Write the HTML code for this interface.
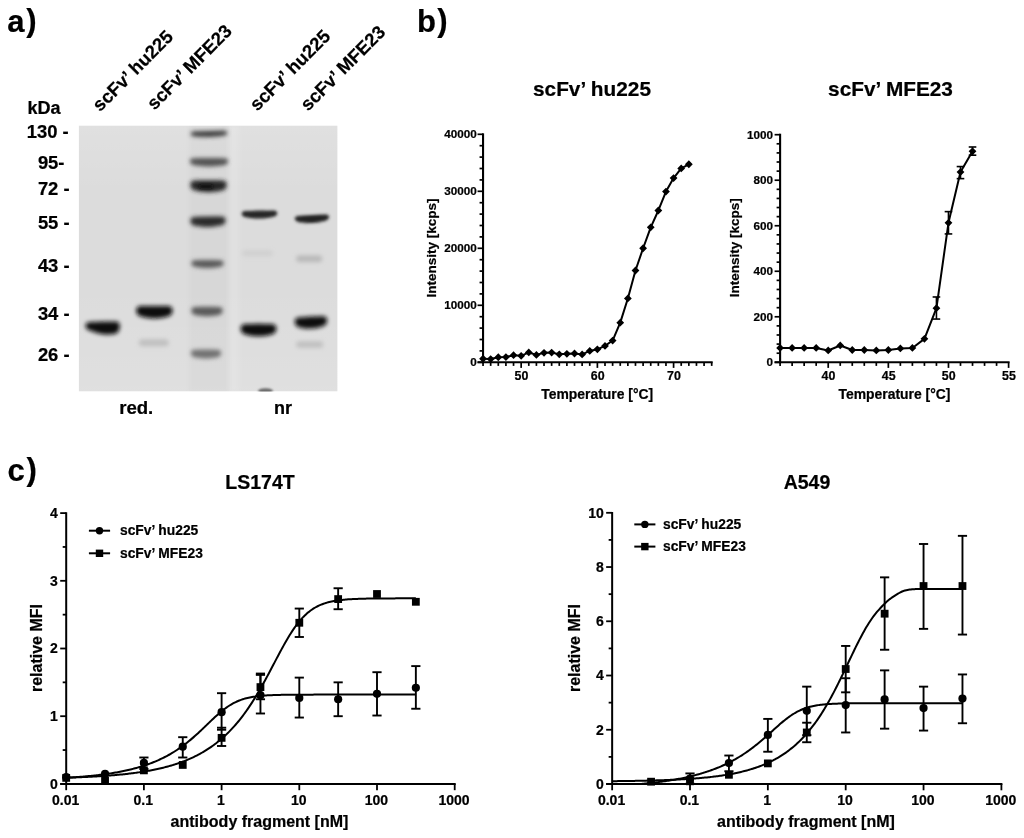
<!DOCTYPE html>
<html><head><meta charset="utf-8"><style>html,body{margin:0;padding:0;background:#fff;width:1024px;height:838px;overflow:hidden}svg{display:block;filter:blur(0.6px)}</style></head>
<body><svg width="1024" height="838" viewBox="0 0 1024 838" font-family="'Liberation Sans', sans-serif" font-weight="bold">
<defs>
<clipPath id="gelclip"><rect x="78.7" y="125.5" width="258.9" height="266"/></clipPath>
<linearGradient id="gelgrad" x1="0" y1="0" x2="0" y2="1"><stop offset="0" stop-color="#fff" stop-opacity="0.14"/><stop offset="0.25" stop-color="#fff" stop-opacity="0.03"/><stop offset="0.6" stop-color="#fff" stop-opacity="0.03"/><stop offset="1" stop-color="#fff" stop-opacity="0.13"/></linearGradient>
<filter id="b1.0" x="-30%" y="-100%" width="160%" height="300%"><feGaussianBlur stdDeviation="1.0"/></filter><filter id="b1.6" x="-30%" y="-100%" width="160%" height="300%"><feGaussianBlur stdDeviation="1.6"/></filter><filter id="b1.8" x="-30%" y="-100%" width="160%" height="300%"><feGaussianBlur stdDeviation="1.8"/></filter><filter id="b2.0" x="-30%" y="-100%" width="160%" height="300%"><feGaussianBlur stdDeviation="2.0"/></filter><filter id="b2.2" x="-30%" y="-100%" width="160%" height="300%"><feGaussianBlur stdDeviation="2.2"/></filter></defs>
<rect width="1024" height="838" fill="#fff"/>
<g clip-path="url(#gelclip)"><rect x="78.7" y="125.5" width="258.90000000000003" height="266.0" fill="#dbdbdb"/><rect x="78.7" y="125.5" width="258.90000000000003" height="266.0" fill="url(#gelgrad)"/><rect x="189" y="125" width="40" height="267" fill="#000" fill-opacity="0.025" filter="url(#b2.0)"/><rect x="229" y="125" width="10" height="267" fill="#fff" fill-opacity="0.12" filter="url(#b2.0)"/><path d="M85.00,326.89L86.46,324.07L87.92,323.20L89.38,323.00L90.83,322.81L92.29,322.63L93.75,322.46L95.21,322.29L96.67,322.13L98.12,321.97L99.58,321.82L101.04,321.68L102.50,321.55L103.96,321.42L105.42,321.30L106.88,321.19L108.33,321.08L109.79,320.99L111.25,320.89L112.71,320.81L114.17,320.73L115.62,320.66L117.08,320.60L118.54,321.60L120.00,325.96L120.00,325.46L118.54,330.55L117.08,332.21L115.62,332.72L114.17,333.15L112.71,333.50L111.25,333.78L109.79,333.98L108.33,334.12L106.88,334.19L105.42,334.20L103.96,334.15L102.50,334.05L101.04,333.89L99.58,333.69L98.12,333.44L96.67,333.15L95.21,332.82L93.75,332.45L92.29,332.05L90.83,331.62L89.38,331.16L87.92,330.69L86.46,329.52L85.00,326.39Z" fill="#0e0e0e" filter="url(#b2.0)" transform="rotate(4 102.5 327.8)"/><path d="M135.90,310.62L137.44,307.07L138.98,306.16L140.53,306.12L142.07,306.08L143.61,306.05L145.15,306.02L146.69,306.00L148.23,305.98L149.78,305.97L151.32,305.96L152.86,305.95L154.40,305.95L155.94,305.95L157.48,305.96L159.03,305.97L160.57,305.98L162.11,306.00L163.65,306.02L165.19,306.05L166.73,306.08L168.28,306.12L169.82,306.16L171.36,307.07L172.90,310.62L172.90,310.32L171.36,314.43L169.82,315.85L168.28,316.34L166.73,316.78L165.19,317.17L163.65,317.51L162.11,317.80L160.57,318.03L159.03,318.22L157.48,318.35L155.94,318.42L154.40,318.45L152.86,318.42L151.32,318.35L149.78,318.22L148.23,318.03L146.69,317.80L145.15,317.51L143.61,317.17L142.07,316.78L140.53,316.34L138.98,315.85L137.44,314.43L135.90,310.32Z" fill="#101010" filter="url(#b2.0)" transform="rotate(0 154.4 312.2)"/><rect x="138.80" y="339.30" width="30" height="7" rx="3.50" ry="3.50" fill="#c0c0c0" filter="url(#b2.0)" transform="rotate(0 153.8 342.8)"/><path d="M190.70,132.50L192.22,131.47L193.75,131.18L195.28,131.12L196.80,131.08L198.32,131.04L199.85,131.00L201.38,130.97L202.90,130.94L204.43,130.93L205.95,130.91L207.47,130.90L209.00,130.90L210.53,130.90L212.05,130.91L213.57,130.93L215.10,130.94L216.62,130.97L218.15,131.00L219.68,131.04L221.20,131.08L222.72,131.12L224.25,131.18L225.78,131.47L227.30,132.50L227.30,134.20L225.78,135.40L224.25,135.86L222.72,136.06L221.20,136.23L219.68,136.39L218.15,136.53L216.62,136.64L215.10,136.73L213.57,136.81L212.05,136.86L210.53,136.89L209.00,136.90L207.47,136.89L205.95,136.86L204.43,136.81L202.90,136.73L201.38,136.64L199.85,136.53L198.32,136.39L196.80,136.23L195.28,136.06L193.75,135.86L192.22,135.40L190.70,134.20Z" fill="#3a3a3a" filter="url(#b2.0)" transform="rotate(-1.5 209 133.9)"/><path d="M190.00,160.05L191.58,158.62L193.17,158.23L194.75,158.17L196.33,158.13L197.92,158.09L199.50,158.05L201.08,158.02L202.67,157.99L204.25,157.97L205.83,157.96L207.42,157.95L209.00,157.95L210.58,157.95L212.17,157.96L213.75,157.97L215.33,157.99L216.92,158.02L218.50,158.05L220.08,158.09L221.67,158.13L223.25,158.17L224.83,158.23L226.42,158.62L228.00,160.05L228.00,162.62L226.42,164.33L224.83,164.97L223.25,165.25L221.67,165.51L220.08,165.73L218.50,165.92L216.92,166.08L215.33,166.21L213.75,166.32L212.17,166.39L210.58,166.44L209.00,166.45L207.42,166.44L205.83,166.39L204.25,166.32L202.67,166.21L201.08,166.08L199.50,165.92L197.92,165.73L196.33,165.51L194.75,165.25L193.17,164.97L191.58,164.33L190.00,162.62Z" fill="#525252" filter="url(#b2.0)" transform="rotate(0 209 162.2)"/><path d="M190.50,183.00L192.00,181.01L193.50,180.48L195.00,180.42L196.50,180.38L198.00,180.34L199.50,180.30L201.00,180.27L202.50,180.24L204.00,180.22L205.50,180.21L207.00,180.20L208.50,180.20L210.00,180.20L211.50,180.21L213.00,180.22L214.50,180.24L216.00,180.27L217.50,180.30L219.00,180.34L220.50,180.38L222.00,180.42L223.50,180.48L225.00,181.01L226.50,183.00L226.50,186.80L225.00,189.21L223.50,190.12L222.00,190.51L220.50,190.87L219.00,191.18L217.50,191.45L216.00,191.68L214.50,191.87L213.00,192.01L211.50,192.12L210.00,192.18L208.50,192.20L207.00,192.18L205.50,192.12L204.00,192.01L202.50,191.87L201.00,191.68L199.50,191.45L198.00,191.18L196.50,190.87L195.00,190.51L193.50,190.12L192.00,189.21L190.50,186.80Z" fill="#262626" filter="url(#b2.0)" transform="rotate(0 208.5 186.2)"/><path d="M190.50,218.95L191.96,217.20L193.42,216.73L194.88,216.67L196.33,216.63L197.79,216.59L199.25,216.55L200.71,216.52L202.17,216.49L203.62,216.47L205.08,216.46L206.54,216.45L208.00,216.45L209.46,216.45L210.92,216.46L212.38,216.47L213.83,216.49L215.29,216.52L216.75,216.55L218.21,216.59L219.67,216.63L221.12,216.67L222.58,216.73L224.04,217.20L225.50,218.95L225.50,222.22L224.04,224.33L222.58,225.13L221.12,225.47L219.67,225.78L218.21,226.06L216.75,226.29L215.29,226.49L213.83,226.66L212.38,226.79L210.92,226.88L209.46,226.93L208.00,226.95L206.54,226.93L205.08,226.88L203.62,226.79L202.17,226.66L200.71,226.49L199.25,226.29L197.79,226.06L196.33,225.78L194.88,225.47L193.42,225.13L191.96,224.33L190.50,222.22Z" fill="#2c2c2c" filter="url(#b2.0)" transform="rotate(-1 208 221.7)"/><path d="M191.50,262.00L192.83,260.65L194.17,260.28L195.50,260.23L196.83,260.18L198.17,260.14L199.50,260.10L200.83,260.07L202.17,260.04L203.50,260.02L204.83,260.01L206.17,260.00L207.50,260.00L208.83,260.00L210.17,260.01L211.50,260.02L212.83,260.04L214.17,260.07L215.50,260.10L216.83,260.14L218.17,260.18L219.50,260.23L220.83,260.28L222.17,260.65L223.50,262.00L223.50,264.40L222.17,266.00L220.83,266.61L219.50,266.88L218.17,267.11L216.83,267.32L215.50,267.50L214.17,267.65L212.83,267.78L211.50,267.88L210.17,267.94L208.83,267.99L207.50,268.00L206.17,267.99L204.83,267.94L203.50,267.88L202.17,267.78L200.83,267.65L199.50,267.50L198.17,267.32L196.83,267.11L195.50,266.88L194.17,266.61L192.83,266.00L191.50,264.40Z" fill="#5a5a5a" filter="url(#b2.0)" transform="rotate(0 207.5 264)"/><path d="M191.50,309.05L192.79,307.46L194.08,307.03L195.38,306.98L196.67,306.93L197.96,306.89L199.25,306.85L200.54,306.82L201.83,306.79L203.12,306.77L204.42,306.76L205.71,306.75L207.00,306.75L208.29,306.75L209.58,306.76L210.88,306.77L212.17,306.79L213.46,306.82L214.75,306.85L216.04,306.89L217.33,306.93L218.62,306.98L219.92,307.03L221.21,307.46L222.50,309.05L222.50,311.98L221.21,313.88L219.92,314.60L218.62,314.91L217.33,315.19L216.04,315.44L214.75,315.66L213.46,315.84L212.17,315.99L210.88,316.10L209.58,316.18L208.29,316.23L207.00,316.25L205.71,316.23L204.42,316.18L203.12,316.10L201.83,315.99L200.54,315.84L199.25,315.66L197.96,315.44L196.67,315.19L195.38,314.91L194.08,314.60L192.79,313.88L191.50,311.98Z" fill="#5a5a5a" filter="url(#b2.0)" transform="rotate(0 207 311.5)"/><path d="M191.00,351.70L192.25,350.19L193.50,349.78L194.75,349.73L196.00,349.68L197.25,349.64L198.50,349.60L199.75,349.57L201.00,349.54L202.25,349.52L203.50,349.51L204.75,349.50L206.00,349.50L207.25,349.50L208.50,349.51L209.75,349.52L211.00,349.54L212.25,349.57L213.50,349.60L214.75,349.64L216.00,349.68L217.25,349.73L218.50,349.78L219.75,350.19L221.00,351.70L221.00,354.45L219.75,356.25L218.50,356.94L217.25,357.23L216.00,357.50L214.75,357.73L213.50,357.94L212.25,358.11L211.00,358.25L209.75,358.36L208.50,358.44L207.25,358.48L206.00,358.50L204.75,358.48L203.50,358.44L202.25,358.36L201.00,358.25L199.75,358.11L198.50,357.94L197.25,357.73L196.00,357.50L194.75,357.23L193.50,356.94L192.25,356.25L191.00,354.45Z" fill="#727272" filter="url(#b2.0)" transform="rotate(0 206 354)"/><rect x="199.00" y="184.50" width="14" height="4" rx="2.00" ry="2.00" fill="#101010" filter="url(#b1.8)" transform="rotate(0 206 186.5)"/><path d="M241.25,213.70L242.77,211.41L244.29,210.81L245.81,210.77L247.33,210.73L248.85,210.70L250.38,210.67L251.90,210.65L253.42,210.63L254.94,210.62L256.46,210.61L257.98,210.60L259.50,210.60L261.02,210.60L262.54,210.61L264.06,210.62L265.58,210.63L267.10,210.65L268.62,210.67L270.15,210.70L271.67,210.73L273.19,210.77L274.71,210.81L276.23,211.41L277.75,213.70L277.75,213.00L276.23,215.69L274.71,216.66L273.19,217.03L271.67,217.36L270.15,217.65L268.62,217.90L267.10,218.11L265.58,218.29L264.06,218.42L262.54,218.52L261.02,218.58L259.50,218.60L257.98,218.58L256.46,218.52L254.94,218.42L253.42,218.29L251.90,218.11L250.38,217.90L248.85,217.65L247.33,217.36L245.81,217.03L244.29,216.66L242.77,215.69L241.25,213.00Z" fill="#262626" filter="url(#b1.6)" transform="rotate(-1 259.5 214.6)"/><rect x="241.90" y="250.30" width="31" height="6" rx="3.00" ry="3.00" fill="#d0d0d0" filter="url(#b2.0)" transform="rotate(0 257.4 253.3)"/><path d="M240.25,328.73L241.77,325.13L243.29,324.20L244.81,324.13L246.33,324.07L247.85,324.02L249.38,323.98L250.90,323.94L252.42,323.91L253.94,323.88L255.46,323.86L256.98,323.85L258.50,323.85L260.02,323.85L261.54,323.86L263.06,323.88L264.58,323.91L266.10,323.94L267.62,323.98L269.15,324.02L270.67,324.07L272.19,324.13L273.71,324.20L275.23,325.13L276.75,328.73L276.75,328.23L275.23,332.33L273.71,333.75L272.19,334.24L270.67,334.68L269.15,335.07L267.62,335.41L266.10,335.70L264.58,335.93L263.06,336.12L261.54,336.25L260.02,336.32L258.50,336.35L256.98,336.32L255.46,336.25L253.94,336.12L252.42,335.93L250.90,335.70L249.38,335.41L247.85,335.07L246.33,334.68L244.81,334.24L243.29,333.75L241.77,332.33L240.25,328.23Z" fill="#0c0c0c" filter="url(#b2.0)" transform="rotate(0 258.5 330.1)"/><path d="M294.50,218.10L295.96,215.81L297.42,215.21L298.88,215.17L300.33,215.13L301.79,215.10L303.25,215.07L304.71,215.05L306.17,215.03L307.62,215.02L309.08,215.01L310.54,215.00L312.00,215.00L313.46,215.00L314.92,215.01L316.38,215.02L317.83,215.03L319.29,215.05L320.75,215.07L322.21,215.10L323.67,215.13L325.12,215.17L326.58,215.21L328.04,215.81L329.50,218.10L329.50,217.40L328.04,220.09L326.58,221.06L325.12,221.43L323.67,221.76L322.21,222.05L320.75,222.30L319.29,222.51L317.83,222.69L316.38,222.82L314.92,222.92L313.46,222.98L312.00,223.00L310.54,222.98L309.08,222.92L307.62,222.82L306.17,222.69L304.71,222.51L303.25,222.30L301.79,222.05L300.33,221.76L298.88,221.43L297.42,221.06L295.96,220.09L294.50,217.40Z" fill="#222222" filter="url(#b1.6)" transform="rotate(-3 312 219)"/><rect x="296.20" y="255.45" width="26" height="6.5" rx="3.25" ry="3.25" fill="#b8b8b8" filter="url(#b2.0)" transform="rotate(0 309.2 258.7)"/><path d="M294.50,321.30L295.88,317.85L297.25,316.95L298.62,316.88L300.00,316.82L301.38,316.77L302.75,316.73L304.12,316.69L305.50,316.66L306.88,316.63L308.25,316.61L309.62,316.60L311.00,316.60L312.38,316.60L313.75,316.61L315.12,316.63L316.50,316.66L317.88,316.69L319.25,316.73L320.62,316.77L322.00,316.82L323.38,316.88L324.75,316.95L326.12,317.85L327.50,321.30L327.50,320.80L326.12,324.75L324.75,326.10L323.38,326.58L322.00,327.00L320.62,327.38L319.25,327.70L317.88,327.98L316.50,328.20L315.12,328.38L313.75,328.50L312.38,328.58L311.00,328.60L309.62,328.58L308.25,328.50L306.88,328.38L305.50,328.20L304.12,327.98L302.75,327.70L301.38,327.38L300.00,327.00L298.62,326.58L297.25,326.10L295.88,324.75L294.50,320.80Z" fill="#0f0f0f" filter="url(#b2.0)" transform="rotate(-3 311 322.6)"/><rect x="296.20" y="341.25" width="27" height="6.5" rx="3.25" ry="3.25" fill="#c0c0c0" filter="url(#b2.0)" transform="rotate(0 309.7 344.5)"/><ellipse cx="265.5" cy="391" rx="7.5" ry="2.8" fill="#6a6a6a" filter="url(#b1.0)"/></g>
<g stroke="#000" fill="none" stroke-linecap="butt"><line x1="483.05" y1="363.30" x2="483.05" y2="133.30" stroke-width="2.1"/><line x1="477.55" y1="362.30" x2="712.70" y2="362.30" stroke-width="2.1"/><line x1="477.55" y1="362.30" x2="483.05" y2="362.30" stroke-width="1.7"/><line x1="479.55" y1="350.90" x2="483.05" y2="350.90" stroke-width="1.7"/><line x1="479.55" y1="339.50" x2="483.05" y2="339.50" stroke-width="1.7"/><line x1="479.55" y1="328.10" x2="483.05" y2="328.10" stroke-width="1.7"/><line x1="479.55" y1="316.70" x2="483.05" y2="316.70" stroke-width="1.7"/><line x1="477.55" y1="305.30" x2="483.05" y2="305.30" stroke-width="1.7"/><line x1="479.55" y1="293.90" x2="483.05" y2="293.90" stroke-width="1.7"/><line x1="479.55" y1="282.50" x2="483.05" y2="282.50" stroke-width="1.7"/><line x1="479.55" y1="271.10" x2="483.05" y2="271.10" stroke-width="1.7"/><line x1="479.55" y1="259.70" x2="483.05" y2="259.70" stroke-width="1.7"/><line x1="477.55" y1="248.30" x2="483.05" y2="248.30" stroke-width="1.7"/><line x1="479.55" y1="236.90" x2="483.05" y2="236.90" stroke-width="1.7"/><line x1="479.55" y1="225.50" x2="483.05" y2="225.50" stroke-width="1.7"/><line x1="479.55" y1="214.10" x2="483.05" y2="214.10" stroke-width="1.7"/><line x1="479.55" y1="202.70" x2="483.05" y2="202.70" stroke-width="1.7"/><line x1="477.55" y1="191.30" x2="483.05" y2="191.30" stroke-width="1.7"/><line x1="479.55" y1="179.90" x2="483.05" y2="179.90" stroke-width="1.7"/><line x1="479.55" y1="168.50" x2="483.05" y2="168.50" stroke-width="1.7"/><line x1="479.55" y1="157.10" x2="483.05" y2="157.10" stroke-width="1.7"/><line x1="479.55" y1="145.70" x2="483.05" y2="145.70" stroke-width="1.7"/><line x1="477.55" y1="134.30" x2="483.05" y2="134.30" stroke-width="1.7"/><line x1="483.05" y1="362.30" x2="483.05" y2="365.90" stroke-width="1.7"/><line x1="490.67" y1="362.30" x2="490.67" y2="365.90" stroke-width="1.7"/><line x1="498.29" y1="362.30" x2="498.29" y2="365.90" stroke-width="1.7"/><line x1="505.92" y1="362.30" x2="505.92" y2="365.90" stroke-width="1.7"/><line x1="513.54" y1="362.30" x2="513.54" y2="365.90" stroke-width="1.7"/><line x1="521.16" y1="362.30" x2="521.16" y2="367.90" stroke-width="1.7"/><line x1="528.78" y1="362.30" x2="528.78" y2="365.90" stroke-width="1.7"/><line x1="536.40" y1="362.30" x2="536.40" y2="365.90" stroke-width="1.7"/><line x1="544.02" y1="362.30" x2="544.02" y2="365.90" stroke-width="1.7"/><line x1="551.64" y1="362.30" x2="551.64" y2="365.90" stroke-width="1.7"/><line x1="559.27" y1="362.30" x2="559.27" y2="365.90" stroke-width="1.7"/><line x1="566.89" y1="362.30" x2="566.89" y2="365.90" stroke-width="1.7"/><line x1="574.51" y1="362.30" x2="574.51" y2="365.90" stroke-width="1.7"/><line x1="582.13" y1="362.30" x2="582.13" y2="365.90" stroke-width="1.7"/><line x1="589.75" y1="362.30" x2="589.75" y2="365.90" stroke-width="1.7"/><line x1="597.38" y1="362.30" x2="597.38" y2="367.90" stroke-width="1.7"/><line x1="605.00" y1="362.30" x2="605.00" y2="365.90" stroke-width="1.7"/><line x1="612.62" y1="362.30" x2="612.62" y2="365.90" stroke-width="1.7"/><line x1="620.24" y1="362.30" x2="620.24" y2="365.90" stroke-width="1.7"/><line x1="627.86" y1="362.30" x2="627.86" y2="365.90" stroke-width="1.7"/><line x1="635.48" y1="362.30" x2="635.48" y2="365.90" stroke-width="1.7"/><line x1="643.11" y1="362.30" x2="643.11" y2="365.90" stroke-width="1.7"/><line x1="650.73" y1="362.30" x2="650.73" y2="365.90" stroke-width="1.7"/><line x1="658.35" y1="362.30" x2="658.35" y2="365.90" stroke-width="1.7"/><line x1="665.97" y1="362.30" x2="665.97" y2="365.90" stroke-width="1.7"/><line x1="673.59" y1="362.30" x2="673.59" y2="367.90" stroke-width="1.7"/><line x1="681.21" y1="362.30" x2="681.21" y2="365.90" stroke-width="1.7"/><line x1="688.84" y1="362.30" x2="688.84" y2="365.90" stroke-width="1.7"/><line x1="696.46" y1="362.30" x2="696.46" y2="365.90" stroke-width="1.7"/><line x1="704.08" y1="362.30" x2="704.08" y2="365.90" stroke-width="1.7"/><line x1="711.70" y1="362.30" x2="711.70" y2="365.90" stroke-width="1.7"/><polyline points="483.05,358.77 490.67,359.05 498.29,357.23 505.92,357.06 513.54,355.18 521.16,355.86 528.78,352.44 536.40,354.89 544.02,352.84 551.64,352.61 559.27,354.32 566.89,353.86 574.51,353.52 582.13,354.45 589.75,350.95 597.38,349.34 605.00,345.94 612.62,340.54 620.24,322.63 627.86,298.43 635.48,270.51 643.11,248.24 650.73,227.29 658.35,210.49 665.97,191.57 673.59,178.07 681.21,168.47 688.84,164.26" fill="none" stroke-width="2" stroke-linejoin="round"/><line x1="780.10" y1="363.30" x2="780.10" y2="133.70" stroke-width="2.1"/><line x1="774.60" y1="362.30" x2="1009.60" y2="362.30" stroke-width="2.1"/><line x1="774.60" y1="362.30" x2="780.10" y2="362.30" stroke-width="1.7"/><line x1="776.60" y1="353.20" x2="780.10" y2="353.20" stroke-width="1.7"/><line x1="776.60" y1="344.09" x2="780.10" y2="344.09" stroke-width="1.7"/><line x1="776.60" y1="334.99" x2="780.10" y2="334.99" stroke-width="1.7"/><line x1="776.60" y1="325.88" x2="780.10" y2="325.88" stroke-width="1.7"/><line x1="774.60" y1="316.78" x2="780.10" y2="316.78" stroke-width="1.7"/><line x1="776.60" y1="307.68" x2="780.10" y2="307.68" stroke-width="1.7"/><line x1="776.60" y1="298.57" x2="780.10" y2="298.57" stroke-width="1.7"/><line x1="776.60" y1="289.47" x2="780.10" y2="289.47" stroke-width="1.7"/><line x1="776.60" y1="280.36" x2="780.10" y2="280.36" stroke-width="1.7"/><line x1="774.60" y1="271.26" x2="780.10" y2="271.26" stroke-width="1.7"/><line x1="776.60" y1="262.16" x2="780.10" y2="262.16" stroke-width="1.7"/><line x1="776.60" y1="253.05" x2="780.10" y2="253.05" stroke-width="1.7"/><line x1="776.60" y1="243.95" x2="780.10" y2="243.95" stroke-width="1.7"/><line x1="776.60" y1="234.84" x2="780.10" y2="234.84" stroke-width="1.7"/><line x1="774.60" y1="225.74" x2="780.10" y2="225.74" stroke-width="1.7"/><line x1="776.60" y1="216.64" x2="780.10" y2="216.64" stroke-width="1.7"/><line x1="776.60" y1="207.53" x2="780.10" y2="207.53" stroke-width="1.7"/><line x1="776.60" y1="198.43" x2="780.10" y2="198.43" stroke-width="1.7"/><line x1="776.60" y1="189.32" x2="780.10" y2="189.32" stroke-width="1.7"/><line x1="774.60" y1="180.22" x2="780.10" y2="180.22" stroke-width="1.7"/><line x1="776.60" y1="171.12" x2="780.10" y2="171.12" stroke-width="1.7"/><line x1="776.60" y1="162.01" x2="780.10" y2="162.01" stroke-width="1.7"/><line x1="776.60" y1="152.91" x2="780.10" y2="152.91" stroke-width="1.7"/><line x1="776.60" y1="143.80" x2="780.10" y2="143.80" stroke-width="1.7"/><line x1="774.60" y1="134.70" x2="780.10" y2="134.70" stroke-width="1.7"/><line x1="780.10" y1="362.30" x2="780.10" y2="365.90" stroke-width="1.7"/><line x1="792.13" y1="362.30" x2="792.13" y2="365.90" stroke-width="1.7"/><line x1="804.15" y1="362.30" x2="804.15" y2="365.90" stroke-width="1.7"/><line x1="816.18" y1="362.30" x2="816.18" y2="365.90" stroke-width="1.7"/><line x1="828.21" y1="362.30" x2="828.21" y2="367.90" stroke-width="1.7"/><line x1="840.23" y1="362.30" x2="840.23" y2="365.90" stroke-width="1.7"/><line x1="852.26" y1="362.30" x2="852.26" y2="365.90" stroke-width="1.7"/><line x1="864.28" y1="362.30" x2="864.28" y2="365.90" stroke-width="1.7"/><line x1="876.31" y1="362.30" x2="876.31" y2="365.90" stroke-width="1.7"/><line x1="888.34" y1="362.30" x2="888.34" y2="367.90" stroke-width="1.7"/><line x1="900.36" y1="362.30" x2="900.36" y2="365.90" stroke-width="1.7"/><line x1="912.39" y1="362.30" x2="912.39" y2="365.90" stroke-width="1.7"/><line x1="924.42" y1="362.30" x2="924.42" y2="365.90" stroke-width="1.7"/><line x1="936.44" y1="362.30" x2="936.44" y2="365.90" stroke-width="1.7"/><line x1="948.47" y1="362.30" x2="948.47" y2="367.90" stroke-width="1.7"/><line x1="960.49" y1="362.30" x2="960.49" y2="365.90" stroke-width="1.7"/><line x1="972.52" y1="362.30" x2="972.52" y2="365.90" stroke-width="1.7"/><line x1="984.55" y1="362.30" x2="984.55" y2="365.90" stroke-width="1.7"/><line x1="996.57" y1="362.30" x2="996.57" y2="365.90" stroke-width="1.7"/><line x1="1008.60" y1="362.30" x2="1008.60" y2="367.90" stroke-width="1.7"/><polyline points="780.10,347.96 792.13,347.96 804.15,347.96 816.18,347.96 828.21,350.46 840.23,345.46 852.26,350.01 864.28,350.01 876.31,350.46 888.34,350.01 900.36,348.42 912.39,347.96 924.42,338.86 936.44,308.13 948.47,222.78 960.49,172.03 972.52,151.31" fill="none" stroke-width="2" stroke-linejoin="round"/><line x1="936.44" y1="319.06" x2="936.44" y2="296.98" stroke-width="1.6"/><line x1="932.64" y1="319.06" x2="940.24" y2="319.06" stroke-width="1.6"/><line x1="932.64" y1="296.98" x2="940.24" y2="296.98" stroke-width="1.6"/><line x1="948.47" y1="233.93" x2="948.47" y2="211.63" stroke-width="1.6"/><line x1="944.67" y1="233.93" x2="952.27" y2="233.93" stroke-width="1.6"/><line x1="944.67" y1="211.63" x2="952.27" y2="211.63" stroke-width="1.6"/><line x1="960.49" y1="178.63" x2="960.49" y2="166.56" stroke-width="1.6"/><line x1="956.69" y1="178.63" x2="964.29" y2="178.63" stroke-width="1.6"/><line x1="956.69" y1="166.56" x2="964.29" y2="166.56" stroke-width="1.6"/><line x1="972.52" y1="155.18" x2="972.52" y2="146.99" stroke-width="1.6"/><line x1="968.72" y1="155.18" x2="976.32" y2="155.18" stroke-width="1.6"/><line x1="968.72" y1="146.99" x2="976.32" y2="146.99" stroke-width="1.6"/><line x1="66.20" y1="784.90" x2="66.20" y2="512.20" stroke-width="2.0"/><line x1="60.20" y1="783.90" x2="455.70" y2="783.90" stroke-width="2.0"/><line x1="60.20" y1="783.90" x2="66.20" y2="783.90" stroke-width="1.8"/><line x1="62.70" y1="750.05" x2="66.20" y2="750.05" stroke-width="1.8"/><line x1="60.20" y1="716.20" x2="66.20" y2="716.20" stroke-width="1.8"/><line x1="62.70" y1="682.35" x2="66.20" y2="682.35" stroke-width="1.8"/><line x1="60.20" y1="648.50" x2="66.20" y2="648.50" stroke-width="1.8"/><line x1="62.70" y1="614.65" x2="66.20" y2="614.65" stroke-width="1.8"/><line x1="60.20" y1="580.80" x2="66.20" y2="580.80" stroke-width="1.8"/><line x1="62.70" y1="546.95" x2="66.20" y2="546.95" stroke-width="1.8"/><line x1="60.20" y1="513.10" x2="66.20" y2="513.10" stroke-width="1.8"/><line x1="66.20" y1="783.90" x2="66.20" y2="790.20" stroke-width="1.8"/><line x1="143.90" y1="783.90" x2="143.90" y2="790.20" stroke-width="1.8"/><line x1="221.60" y1="783.90" x2="221.60" y2="790.20" stroke-width="1.8"/><line x1="299.30" y1="783.90" x2="299.30" y2="790.20" stroke-width="1.8"/><line x1="377.00" y1="783.90" x2="377.00" y2="790.20" stroke-width="1.8"/><line x1="454.70" y1="783.90" x2="454.70" y2="790.20" stroke-width="1.8"/><polyline points="66.20,777.78 67.37,777.71 68.54,777.64 69.71,777.57 70.88,777.50 72.05,777.42 73.22,777.34 74.39,777.26 75.56,777.18 76.72,777.09 77.89,777.01 79.06,776.92 80.23,776.83 81.40,776.73 82.57,776.64 83.74,776.54 84.91,776.43 86.08,776.33 87.25,776.22 88.42,776.11 89.59,776.00 90.76,775.88 91.93,775.77 93.10,775.64 94.27,775.52 95.43,775.39 96.60,775.26 97.77,775.12 98.94,774.98 100.11,774.84 101.28,774.69 102.45,774.54 103.62,774.39 104.79,774.23 105.96,774.07 107.13,773.90 108.30,773.73 109.47,773.56 110.64,773.38 111.81,773.19 112.98,773.00 114.15,772.81 115.31,772.61 116.48,772.40 117.65,772.19 118.82,771.98 119.99,771.75 121.16,771.53 122.33,771.29 123.50,771.05 124.67,770.81 125.84,770.55 127.01,770.29 128.18,770.03 129.35,769.76 130.52,769.48 131.69,769.19 132.86,768.89 134.03,768.59 135.19,768.28 136.36,767.96 137.53,767.63 138.70,767.30 139.87,766.95 141.04,766.60 142.21,766.24 143.38,765.87 144.55,765.48 145.72,765.09 146.89,764.69 148.06,764.28 149.23,763.85 150.40,763.42 151.57,762.97 152.74,762.52 153.90,762.05 155.07,761.57 156.24,761.07 157.41,760.57 158.58,760.05 159.75,759.52 160.92,758.97 162.09,758.41 163.26,757.84 164.43,757.25 165.60,756.65 166.77,756.03 167.94,755.39 169.11,754.75 170.28,754.08 171.45,753.40 172.62,752.70 173.78,751.99 174.95,751.25 176.12,750.50 177.29,749.74 178.46,748.95 179.63,748.15 180.80,747.33 181.97,746.49 183.14,745.64 184.31,744.76 185.48,743.87 186.65,742.96 187.82,742.03 188.99,741.08 190.16,740.11 191.33,739.13 192.49,738.13 193.66,737.12 194.83,736.09 196.00,735.04 197.17,733.98 198.34,732.91 199.51,731.82 200.68,730.72 201.85,729.62 203.02,728.50 204.19,727.38 205.36,726.25 206.53,725.13 207.70,723.99 208.87,722.87 210.04,721.74 211.21,720.62 212.37,719.50 213.54,718.40 214.71,717.31 215.88,716.24 217.05,715.18 218.22,714.14 219.39,713.12 220.56,712.13 221.73,711.17 222.90,710.23 224.07,709.32 225.24,708.44 226.41,707.59 227.58,706.78 228.75,706.00 229.92,705.26 231.09,704.55 232.25,703.87 233.42,703.23 234.59,702.62 235.76,702.05 236.93,701.51 238.10,701.00 239.27,700.53 240.44,700.08 241.61,699.66 242.78,699.27 243.95,698.91 245.12,698.57 246.29,698.26 247.46,697.96 248.63,697.69 249.80,697.44 250.96,697.21 252.13,697.00 253.30,696.80 254.47,696.62 255.64,696.45 256.81,696.30 257.98,696.16 259.15,696.03 260.32,695.91 261.49,695.80 262.66,695.69 263.83,695.60 265.00,695.52 266.17,695.44 267.34,695.37 268.51,695.30 269.68,695.24 270.84,695.19 272.01,695.14 273.18,695.09 274.35,695.05 275.52,695.01 276.69,694.98 277.86,694.94 279.03,694.91 280.20,694.89 281.37,694.86 282.54,694.84 283.71,694.82 284.88,694.80 286.05,694.78 287.22,694.77 288.39,694.75 289.56,694.74 290.72,694.73 291.89,694.72 293.06,694.71 294.23,694.70 295.40,694.69 296.57,694.68 297.74,694.68 298.91,694.67 300.08,694.66 301.25,694.66 302.42,694.65 303.59,694.65 304.76,694.65 305.93,694.64 307.10,694.64 308.27,694.64 309.43,694.63 310.60,694.63 311.77,694.63 312.94,694.63 314.11,694.62 315.28,694.62 316.45,694.62 317.62,694.62 318.79,694.62 319.96,694.62 321.13,694.62 322.30,694.61 323.47,694.61 324.64,694.61 325.81,694.61 326.98,694.61 328.15,694.61 329.31,694.61 330.48,694.61 331.65,694.61 332.82,694.61 333.99,694.61 335.16,694.61 336.33,694.61 337.50,694.61 338.67,694.61 339.84,694.61 341.01,694.61 342.18,694.61 343.35,694.61 344.52,694.61 345.69,694.61 346.86,694.61 348.02,694.61 349.19,694.61 350.36,694.60 351.53,694.60 352.70,694.60 353.87,694.60 355.04,694.60 356.21,694.60 357.38,694.60 358.55,694.60 359.72,694.60 360.89,694.60 362.06,694.60 363.23,694.60 364.40,694.60 365.57,694.60 366.74,694.60 367.90,694.60 369.07,694.60 370.24,694.60 371.41,694.60 372.58,694.60 373.75,694.60 374.92,694.60 376.09,694.60 377.26,694.60 378.43,694.60 379.60,694.60 380.77,694.60 381.94,694.60 383.11,694.60 384.28,694.60 385.45,694.60 386.62,694.60 387.78,694.60 388.95,694.60 390.12,694.60 391.29,694.60 392.46,694.60 393.63,694.60 394.80,694.60 395.97,694.60 397.14,694.60 398.31,694.60 399.48,694.60 400.65,694.60 401.82,694.60 402.99,694.60 404.16,694.60 405.33,694.60 406.49,694.60 407.66,694.60 408.83,694.60 410.00,694.60 411.17,694.60 412.34,694.60 413.51,694.60 414.68,694.60 415.85,694.60" fill="none" stroke-width="2" stroke-linejoin="round"/><polyline points="66.20,777.70 67.37,777.66 68.54,777.63 69.71,777.59 70.88,777.55 72.05,777.51 73.22,777.47 74.39,777.43 75.56,777.39 76.72,777.34 77.89,777.30 79.06,777.25 80.23,777.20 81.40,777.15 82.57,777.10 83.74,777.05 84.91,777.00 86.08,776.95 87.25,776.89 88.42,776.84 89.59,776.78 90.76,776.72 91.93,776.66 93.10,776.60 94.27,776.53 95.43,776.47 96.60,776.40 97.77,776.33 98.94,776.26 100.11,776.19 101.28,776.11 102.45,776.03 103.62,775.96 104.79,775.87 105.96,775.79 107.13,775.71 108.30,775.62 109.47,775.53 110.64,775.44 111.81,775.35 112.98,775.25 114.15,775.15 115.31,775.05 116.48,774.95 117.65,774.84 118.82,774.73 119.99,774.62 121.16,774.50 122.33,774.39 123.50,774.27 124.67,774.14 125.84,774.02 127.01,773.89 128.18,773.75 129.35,773.61 130.52,773.47 131.69,773.33 132.86,773.18 134.03,773.03 135.19,772.87 136.36,772.71 137.53,772.55 138.70,772.38 139.87,772.21 141.04,772.03 142.21,771.85 143.38,771.67 144.55,771.48 145.72,771.28 146.89,771.08 148.06,770.88 149.23,770.66 150.40,770.45 151.57,770.23 152.74,770.00 153.90,769.77 155.07,769.53 156.24,769.28 157.41,769.03 158.58,768.77 159.75,768.51 160.92,768.23 162.09,767.96 163.26,767.67 164.43,767.38 165.60,767.08 166.77,766.77 167.94,766.45 169.11,766.13 170.28,765.80 171.45,765.45 172.62,765.10 173.78,764.75 174.95,764.38 176.12,764.00 177.29,763.61 178.46,763.22 179.63,762.81 180.80,762.39 181.97,761.96 183.14,761.52 184.31,761.07 185.48,760.61 186.65,760.14 187.82,759.65 188.99,759.15 190.16,758.64 191.33,758.12 192.49,757.58 193.66,757.03 194.83,756.46 196.00,755.88 197.17,755.29 198.34,754.68 199.51,754.05 200.68,753.41 201.85,752.75 203.02,752.08 204.19,751.39 205.36,750.68 206.53,749.95 207.70,749.21 208.87,748.44 210.04,747.66 211.21,746.85 212.37,746.03 213.54,745.19 214.71,744.32 215.88,743.43 217.05,742.52 218.22,741.59 219.39,740.64 220.56,739.66 221.73,738.65 222.90,737.62 224.07,736.57 225.24,735.49 226.41,734.38 227.58,733.25 228.75,732.09 229.92,730.90 231.09,729.68 232.25,728.43 233.42,727.16 234.59,725.85 235.76,724.51 236.93,723.14 238.10,721.74 239.27,720.31 240.44,718.85 241.61,717.35 242.78,715.82 243.95,714.25 245.12,712.66 246.29,711.02 247.46,709.36 248.63,707.66 249.80,705.92 250.96,704.15 252.13,702.35 253.30,700.51 254.47,698.64 255.64,696.74 256.81,694.81 257.98,692.84 259.15,690.84 260.32,688.82 261.49,686.76 262.66,684.68 263.83,682.58 265.00,680.45 266.17,678.30 267.34,676.13 268.51,673.94 269.68,671.74 270.84,669.52 272.01,667.30 273.18,665.07 274.35,662.84 275.52,660.61 276.69,658.39 277.86,656.17 279.03,653.97 280.20,651.79 281.37,649.62 282.54,647.48 283.71,645.36 284.88,643.28 286.05,641.23 287.22,639.23 288.39,637.26 289.56,635.34 290.72,633.47 291.89,631.66 293.06,629.89 294.23,628.18 295.40,626.53 296.57,624.94 297.74,623.41 298.91,621.94 300.08,620.53 301.25,619.18 302.42,617.90 303.59,616.67 304.76,615.51 305.93,614.40 307.10,613.35 308.27,612.36 309.43,611.43 310.60,610.54 311.77,609.71 312.94,608.93 314.11,608.19 315.28,607.50 316.45,606.85 317.62,606.25 318.79,605.68 319.96,605.15 321.13,604.66 322.30,604.20 323.47,603.77 324.64,603.37 325.81,603.00 326.98,602.65 328.15,602.33 329.31,602.03 330.48,601.75 331.65,601.50 332.82,601.26 333.99,601.04 335.16,600.83 336.33,600.64 337.50,600.47 338.67,600.31 339.84,600.15 341.01,600.02 342.18,599.89 343.35,599.77 344.52,599.66 345.69,599.56 346.86,599.46 348.02,599.37 349.19,599.29 350.36,599.22 351.53,599.15 352.70,599.09 353.87,599.03 355.04,598.98 356.21,598.93 357.38,598.88 358.55,598.84 359.72,598.80 360.89,598.76 362.06,598.73 363.23,598.70 364.40,598.67 365.57,598.64 366.74,598.62 367.90,598.60 369.07,598.58 370.24,598.56 371.41,598.54 372.58,598.53 373.75,598.51 374.92,598.50 376.09,598.48 377.26,598.47 378.43,598.46 379.60,598.45 380.77,598.44 381.94,598.43 383.11,598.43 384.28,598.42 385.45,598.41 386.62,598.41 387.78,598.40 388.95,598.40 390.12,598.39 391.29,598.39 392.46,598.38 393.63,598.38 394.80,598.38 395.97,598.37 397.14,598.37 398.31,598.37 399.48,598.36 400.65,598.36 401.82,598.36 402.99,598.36 404.16,598.36 405.33,598.35 406.49,598.35 407.66,598.35 408.83,598.35 410.00,598.35 411.17,598.35 412.34,598.35 413.51,598.35 414.68,598.34 415.85,598.34" fill="none" stroke-width="2" stroke-linejoin="round"/><line x1="143.90" y1="769.01" x2="143.90" y2="757.50" stroke-width="1.9"/><line x1="139.30" y1="769.01" x2="148.50" y2="769.01" stroke-width="1.9"/><line x1="139.30" y1="757.50" x2="148.50" y2="757.50" stroke-width="1.9"/><line x1="182.75" y1="757.50" x2="182.75" y2="737.19" stroke-width="1.9"/><line x1="178.15" y1="757.50" x2="187.35" y2="757.50" stroke-width="1.9"/><line x1="178.15" y1="737.19" x2="187.35" y2="737.19" stroke-width="1.9"/><line x1="221.60" y1="729.74" x2="221.60" y2="693.18" stroke-width="1.9"/><line x1="217.00" y1="729.74" x2="226.20" y2="729.74" stroke-width="1.9"/><line x1="217.00" y1="693.18" x2="226.20" y2="693.18" stroke-width="1.9"/><line x1="260.45" y1="713.49" x2="260.45" y2="674.90" stroke-width="1.9"/><line x1="255.85" y1="713.49" x2="265.05" y2="713.49" stroke-width="1.9"/><line x1="255.85" y1="674.90" x2="265.05" y2="674.90" stroke-width="1.9"/><line x1="299.30" y1="717.55" x2="299.30" y2="677.61" stroke-width="1.9"/><line x1="294.70" y1="717.55" x2="303.90" y2="717.55" stroke-width="1.9"/><line x1="294.70" y1="677.61" x2="303.90" y2="677.61" stroke-width="1.9"/><line x1="338.15" y1="716.20" x2="338.15" y2="682.35" stroke-width="1.9"/><line x1="333.55" y1="716.20" x2="342.75" y2="716.20" stroke-width="1.9"/><line x1="333.55" y1="682.35" x2="342.75" y2="682.35" stroke-width="1.9"/><line x1="377.00" y1="715.52" x2="377.00" y2="672.20" stroke-width="1.9"/><line x1="372.40" y1="715.52" x2="381.60" y2="715.52" stroke-width="1.9"/><line x1="372.40" y1="672.20" x2="381.60" y2="672.20" stroke-width="1.9"/><line x1="415.85" y1="708.75" x2="415.85" y2="666.10" stroke-width="1.9"/><line x1="411.25" y1="708.75" x2="420.45" y2="708.75" stroke-width="1.9"/><line x1="411.25" y1="666.10" x2="420.45" y2="666.10" stroke-width="1.9"/><line x1="221.60" y1="745.99" x2="221.60" y2="727.71" stroke-width="1.9"/><line x1="217.00" y1="745.99" x2="226.20" y2="745.99" stroke-width="1.9"/><line x1="217.00" y1="727.71" x2="226.20" y2="727.71" stroke-width="1.9"/><line x1="260.45" y1="699.27" x2="260.45" y2="673.55" stroke-width="1.9"/><line x1="255.85" y1="699.27" x2="265.05" y2="699.27" stroke-width="1.9"/><line x1="255.85" y1="673.55" x2="265.05" y2="673.55" stroke-width="1.9"/><line x1="299.30" y1="636.99" x2="299.30" y2="608.56" stroke-width="1.9"/><line x1="294.70" y1="636.99" x2="303.90" y2="636.99" stroke-width="1.9"/><line x1="294.70" y1="608.56" x2="303.90" y2="608.56" stroke-width="1.9"/><line x1="338.15" y1="609.23" x2="338.15" y2="588.25" stroke-width="1.9"/><line x1="333.55" y1="609.23" x2="342.75" y2="609.23" stroke-width="1.9"/><line x1="333.55" y1="588.25" x2="342.75" y2="588.25" stroke-width="1.9"/><line x1="88.90" y1="530.70" x2="110.10" y2="530.70" stroke-width="2"/><line x1="88.90" y1="553.30" x2="110.10" y2="553.30" stroke-width="2"/><line x1="612.15" y1="785.00" x2="612.15" y2="511.90" stroke-width="2.0"/><line x1="606.15" y1="784.00" x2="1002.40" y2="784.00" stroke-width="2.0"/><line x1="606.15" y1="784.00" x2="612.15" y2="784.00" stroke-width="1.8"/><line x1="608.65" y1="756.88" x2="612.15" y2="756.88" stroke-width="1.8"/><line x1="606.15" y1="729.76" x2="612.15" y2="729.76" stroke-width="1.8"/><line x1="608.65" y1="702.64" x2="612.15" y2="702.64" stroke-width="1.8"/><line x1="606.15" y1="675.52" x2="612.15" y2="675.52" stroke-width="1.8"/><line x1="608.65" y1="648.40" x2="612.15" y2="648.40" stroke-width="1.8"/><line x1="606.15" y1="621.28" x2="612.15" y2="621.28" stroke-width="1.8"/><line x1="608.65" y1="594.16" x2="612.15" y2="594.16" stroke-width="1.8"/><line x1="606.15" y1="567.04" x2="612.15" y2="567.04" stroke-width="1.8"/><line x1="608.65" y1="539.92" x2="612.15" y2="539.92" stroke-width="1.8"/><line x1="606.15" y1="512.80" x2="612.15" y2="512.80" stroke-width="1.8"/><line x1="612.15" y1="784.00" x2="612.15" y2="790.30" stroke-width="1.8"/><line x1="690.00" y1="784.00" x2="690.00" y2="790.30" stroke-width="1.8"/><line x1="767.85" y1="784.00" x2="767.85" y2="790.30" stroke-width="1.8"/><line x1="845.70" y1="784.00" x2="845.70" y2="790.30" stroke-width="1.8"/><line x1="923.55" y1="784.00" x2="923.55" y2="790.30" stroke-width="1.8"/><line x1="1001.40" y1="784.00" x2="1001.40" y2="790.30" stroke-width="1.8"/><polyline points="612.15,784.00 613.32,784.00 614.49,784.00 615.66,784.00 616.84,784.00 618.01,784.00 619.18,784.00 620.35,784.00 621.52,784.00 622.69,784.00 623.87,784.00 625.04,784.00 626.21,784.00 627.38,784.00 628.55,784.00 629.72,784.00 630.90,784.00 632.07,784.00 633.24,784.00 634.41,784.00 635.58,784.00 636.75,784.00 637.93,784.00 639.10,784.00 640.27,784.00 641.44,783.94 642.61,783.83 643.78,783.71 644.96,783.60 646.13,783.48 647.30,783.36 648.47,783.24 649.64,783.12 650.81,782.99 651.99,782.86 653.16,782.72 654.33,782.59 655.50,782.45 656.67,782.30 657.84,782.16 659.02,782.01 660.19,781.85 661.36,781.69 662.53,781.53 663.70,781.37 664.87,781.20 666.05,781.03 667.22,780.85 668.39,780.67 669.56,780.49 670.73,780.30 671.90,780.10 673.08,779.90 674.25,779.70 675.42,779.50 676.59,779.28 677.76,779.07 678.93,778.84 680.11,778.62 681.28,778.39 682.45,778.15 683.62,777.90 684.79,777.66 685.96,777.40 687.14,777.14 688.31,776.87 689.48,776.60 690.65,776.32 691.82,776.04 692.99,775.74 694.17,775.45 695.34,775.14 696.51,774.83 697.68,774.51 698.85,774.18 700.02,773.84 701.20,773.50 702.37,773.15 703.54,772.79 704.71,772.42 705.88,772.05 707.05,771.67 708.23,771.27 709.40,770.87 710.57,770.46 711.74,770.04 712.91,769.61 714.08,769.17 715.26,768.72 716.43,768.26 717.60,767.79 718.77,767.30 719.94,766.81 721.11,766.31 722.29,765.79 723.46,765.26 724.63,764.72 725.80,764.17 726.97,763.61 728.14,763.03 729.32,762.44 730.49,761.84 731.66,761.23 732.83,760.60 734.00,759.95 735.17,759.30 736.35,758.62 737.52,757.94 738.69,757.24 739.86,756.52 741.03,755.79 742.20,755.05 743.38,754.28 744.55,753.51 745.72,752.72 746.89,751.91 748.06,751.08 749.23,750.24 750.41,749.39 751.58,748.52 752.75,747.63 753.92,746.73 755.09,745.81 756.26,744.88 757.44,743.94 758.61,742.97 759.78,742.00 760.95,741.01 762.12,740.02 763.29,739.00 764.47,737.98 765.64,736.95 766.81,735.91 767.98,734.87 769.15,733.82 770.32,732.76 771.50,731.70 772.67,730.64 773.84,729.58 775.01,728.53 776.18,727.48 777.35,726.43 778.53,725.40 779.70,724.37 780.87,723.36 782.04,722.37 783.21,721.39 784.38,720.44 785.56,719.50 786.73,718.59 787.90,717.71 789.07,716.85 790.24,716.02 791.41,715.23 792.58,714.46 793.76,713.73 794.93,713.02 796.10,712.36 797.27,711.72 798.44,711.12 799.61,710.55 800.79,710.01 801.96,709.50 803.13,709.02 804.30,708.58 805.47,708.16 806.64,707.77 807.82,707.41 808.99,707.07 810.16,706.75 811.33,706.46 812.50,706.19 813.67,705.94 814.85,705.71 816.02,705.50 817.19,705.31 818.36,705.12 819.53,704.96 820.70,704.81 821.88,704.67 823.05,704.54 824.22,704.42 825.39,704.31 826.56,704.21 827.73,704.12 828.91,704.04 830.08,703.97 831.25,703.90 832.42,703.83 833.59,703.78 834.76,703.72 835.94,703.68 837.11,703.63 838.28,703.59 839.45,703.56 840.62,703.52 841.79,703.49 842.97,703.46 844.14,703.44 845.31,703.42 846.48,703.40 847.65,703.38 848.82,703.36 850.00,703.34 851.17,703.33 852.34,703.32 853.51,703.30 854.68,703.29 855.85,703.28 857.03,703.27 858.20,703.27 859.37,703.26 860.54,703.25 861.71,703.25 862.88,703.24 864.06,703.23 865.23,703.23 866.40,703.23 867.57,703.22 868.74,703.22 869.91,703.21 871.09,703.21 872.26,703.21 873.43,703.21 874.60,703.20 875.77,703.20 876.94,703.20 878.12,703.20 879.29,703.20 880.46,703.20 881.63,703.20 882.80,703.19 883.97,703.19 885.15,703.19 886.32,703.19 887.49,703.19 888.66,703.19 889.83,703.19 891.00,703.19 892.18,703.19 893.35,703.19 894.52,703.19 895.69,703.19 896.86,703.19 898.03,703.19 899.21,703.19 900.38,703.19 901.55,703.18 902.72,703.18 903.89,703.18 905.06,703.18 906.24,703.18 907.41,703.18 908.58,703.18 909.75,703.18 910.92,703.18 912.09,703.18 913.27,703.18 914.44,703.18 915.61,703.18 916.78,703.18 917.95,703.18 919.12,703.18 920.30,703.18 921.47,703.18 922.64,703.18 923.81,703.18 924.98,703.18 926.15,703.18 927.33,703.18 928.50,703.18 929.67,703.18 930.84,703.18 932.01,703.18 933.18,703.18 934.36,703.18 935.53,703.18 936.70,703.18 937.87,703.18 939.04,703.18 940.21,703.18 941.39,703.18 942.56,703.18 943.73,703.18 944.90,703.18 946.07,703.18 947.24,703.18 948.42,703.18 949.59,703.18 950.76,703.18 951.93,703.18 953.10,703.18 954.27,703.18 955.45,703.18 956.62,703.18 957.79,703.18 958.96,703.18 960.13,703.18 961.30,703.18 962.47,703.18" fill="none" stroke-width="2" stroke-linejoin="round"/><polyline points="612.15,781.19 613.32,781.17 614.49,781.16 615.66,781.15 616.84,781.14 618.01,781.12 619.18,781.11 620.35,781.09 621.52,781.08 622.69,781.06 623.87,781.05 625.04,781.03 626.21,781.02 627.38,781.00 628.55,780.98 629.72,780.96 630.90,780.95 632.07,780.93 633.24,780.91 634.41,780.89 635.58,780.87 636.75,780.85 637.93,780.82 639.10,780.80 640.27,780.78 641.44,780.75 642.61,780.73 643.78,780.70 644.96,780.68 646.13,780.65 647.30,780.62 648.47,780.60 649.64,780.57 650.81,780.54 651.99,780.51 653.16,780.47 654.33,780.44 655.50,780.41 656.67,780.37 657.84,780.34 659.02,780.30 660.19,780.26 661.36,780.22 662.53,780.18 663.70,780.14 664.87,780.10 666.05,780.06 667.22,780.01 668.39,779.97 669.56,779.92 670.73,779.87 671.90,779.82 673.08,779.77 674.25,779.71 675.42,779.66 676.59,779.60 677.76,779.54 678.93,779.48 680.11,779.42 681.28,779.36 682.45,779.29 683.62,779.23 684.79,779.16 685.96,779.09 687.14,779.01 688.31,778.94 689.48,778.86 690.65,778.78 691.82,778.70 692.99,778.61 694.17,778.53 695.34,778.44 696.51,778.35 697.68,778.25 698.85,778.15 700.02,778.05 701.20,777.95 702.37,777.84 703.54,777.73 704.71,777.62 705.88,777.51 707.05,777.39 708.23,777.26 709.40,777.14 710.57,777.01 711.74,776.87 712.91,776.74 714.08,776.59 715.26,776.45 716.43,776.30 717.60,776.14 718.77,775.98 719.94,775.82 721.11,775.65 722.29,775.48 723.46,775.30 724.63,775.12 725.80,774.93 726.97,774.73 728.14,774.53 729.32,774.33 730.49,774.12 731.66,773.90 732.83,773.68 734.00,773.44 735.17,773.21 736.35,772.96 737.52,772.71 738.69,772.45 739.86,772.19 741.03,771.91 742.20,771.63 743.38,771.34 744.55,771.04 745.72,770.73 746.89,770.42 748.06,770.09 749.23,769.76 750.41,769.41 751.58,769.06 752.75,768.69 753.92,768.31 755.09,767.93 756.26,767.53 757.44,767.12 758.61,766.70 759.78,766.27 760.95,765.82 762.12,765.36 763.29,764.89 764.47,764.40 765.64,763.90 766.81,763.39 767.98,762.86 769.15,762.31 770.32,761.75 771.50,761.17 772.67,760.58 773.84,759.97 775.01,759.34 776.18,758.69 777.35,758.03 778.53,757.35 779.70,756.64 780.87,755.92 782.04,755.17 783.21,754.41 784.38,753.62 785.56,752.81 786.73,751.98 787.90,751.12 789.07,750.24 790.24,749.33 791.41,748.40 792.58,747.44 793.76,746.46 794.93,745.44 796.10,744.40 797.27,743.33 798.44,742.24 799.61,741.11 800.79,739.95 801.96,738.75 803.13,737.53 804.30,736.27 805.47,734.98 806.64,733.66 807.82,732.29 808.99,730.89 810.16,729.46 811.33,727.99 812.50,726.49 813.67,724.94 814.85,723.35 816.02,721.73 817.19,720.06 818.36,718.36 819.53,716.62 820.70,714.84 821.88,713.01 823.05,711.14 824.22,709.24 825.39,707.30 826.56,705.32 827.73,703.29 828.91,701.22 830.08,699.11 831.25,696.97 832.42,694.80 833.59,692.60 834.76,690.35 835.94,688.06 837.11,685.74 838.28,683.41 839.45,681.05 840.62,678.67 841.79,676.26 842.97,673.82 844.14,671.37 845.31,668.91 846.48,666.46 847.65,664.00 848.82,661.52 850.00,659.04 851.17,656.57 852.34,654.13 853.51,651.71 854.68,649.30 855.85,646.91 857.03,644.53 858.20,642.19 859.37,639.90 860.54,637.67 861.71,635.47 862.88,633.30 864.06,631.17 865.23,629.11 866.40,627.11 867.57,625.19 868.74,623.31 869.91,621.49 871.09,619.72 872.26,618.02 873.43,616.40 874.60,614.86 875.77,613.39 876.94,611.98 878.12,610.62 879.29,609.31 880.46,608.03 881.63,606.78 882.80,605.55 883.97,604.34 885.15,603.17 886.32,602.05 887.49,601.00 888.66,600.01 889.83,599.08 891.00,598.20 892.18,597.37 893.35,596.58 894.52,595.84 895.69,595.13 896.86,594.42 898.03,593.70 899.21,593.01 900.38,592.36 901.55,591.76 902.72,591.25 903.89,590.84 905.06,590.53 906.24,590.26 907.41,590.01 908.58,589.78 909.75,589.57 910.92,589.40 912.09,589.27 913.27,589.18 914.44,589.13 915.61,589.11 916.78,589.08 917.95,589.06 919.12,589.04 920.30,589.03 921.47,589.01 922.64,589.01 923.81,589.01 924.98,589.01 926.15,589.01 927.33,589.01 928.50,589.01 929.67,589.01 930.84,589.01 932.01,589.01 933.18,589.01 934.36,589.01 935.53,589.01 936.70,589.01 937.87,589.01 939.04,589.01 940.21,589.01 941.39,589.01 942.56,589.01 943.73,589.01 944.90,589.01 946.07,589.01 947.24,589.01 948.42,589.01 949.59,589.01 950.76,589.01 951.93,589.01 953.10,589.01 954.27,589.01 955.45,589.01 956.62,589.01 957.79,589.01 958.96,589.01 960.13,589.01 961.30,589.01 962.47,589.01" fill="none" stroke-width="2" stroke-linejoin="round"/><line x1="690.00" y1="783.73" x2="690.00" y2="773.42" stroke-width="1.9"/><line x1="685.40" y1="783.73" x2="694.60" y2="783.73" stroke-width="1.9"/><line x1="685.40" y1="773.42" x2="694.60" y2="773.42" stroke-width="1.9"/><line x1="728.92" y1="771.25" x2="728.92" y2="755.52" stroke-width="1.9"/><line x1="724.32" y1="771.25" x2="733.52" y2="771.25" stroke-width="1.9"/><line x1="724.32" y1="755.52" x2="733.52" y2="755.52" stroke-width="1.9"/><line x1="767.85" y1="751.73" x2="767.85" y2="718.91" stroke-width="1.9"/><line x1="763.25" y1="751.73" x2="772.45" y2="751.73" stroke-width="1.9"/><line x1="763.25" y1="718.91" x2="772.45" y2="718.91" stroke-width="1.9"/><line x1="806.77" y1="735.18" x2="806.77" y2="686.64" stroke-width="1.9"/><line x1="802.17" y1="735.18" x2="811.38" y2="735.18" stroke-width="1.9"/><line x1="802.17" y1="686.64" x2="811.38" y2="686.64" stroke-width="1.9"/><line x1="845.70" y1="732.47" x2="845.70" y2="678.23" stroke-width="1.9"/><line x1="841.10" y1="732.47" x2="850.30" y2="732.47" stroke-width="1.9"/><line x1="841.10" y1="678.23" x2="850.30" y2="678.23" stroke-width="1.9"/><line x1="884.62" y1="728.68" x2="884.62" y2="670.37" stroke-width="1.9"/><line x1="880.02" y1="728.68" x2="889.23" y2="728.68" stroke-width="1.9"/><line x1="880.02" y1="670.37" x2="889.23" y2="670.37" stroke-width="1.9"/><line x1="923.55" y1="730.57" x2="923.55" y2="686.64" stroke-width="1.9"/><line x1="918.95" y1="730.57" x2="928.15" y2="730.57" stroke-width="1.9"/><line x1="918.95" y1="686.64" x2="928.15" y2="686.64" stroke-width="1.9"/><line x1="962.47" y1="723.25" x2="962.47" y2="674.44" stroke-width="1.9"/><line x1="957.87" y1="723.25" x2="967.07" y2="723.25" stroke-width="1.9"/><line x1="957.87" y1="674.44" x2="967.07" y2="674.44" stroke-width="1.9"/><line x1="806.77" y1="742.24" x2="806.77" y2="722.71" stroke-width="1.9"/><line x1="802.17" y1="742.24" x2="811.38" y2="742.24" stroke-width="1.9"/><line x1="802.17" y1="722.71" x2="811.38" y2="722.71" stroke-width="1.9"/><line x1="845.70" y1="692.33" x2="845.70" y2="645.96" stroke-width="1.9"/><line x1="841.10" y1="692.33" x2="850.30" y2="692.33" stroke-width="1.9"/><line x1="841.10" y1="645.96" x2="850.30" y2="645.96" stroke-width="1.9"/><line x1="884.62" y1="649.76" x2="884.62" y2="577.35" stroke-width="1.9"/><line x1="880.02" y1="649.76" x2="889.23" y2="649.76" stroke-width="1.9"/><line x1="880.02" y1="577.35" x2="889.23" y2="577.35" stroke-width="1.9"/><line x1="923.55" y1="628.87" x2="923.55" y2="543.99" stroke-width="1.9"/><line x1="918.95" y1="628.87" x2="928.15" y2="628.87" stroke-width="1.9"/><line x1="918.95" y1="543.99" x2="928.15" y2="543.99" stroke-width="1.9"/><line x1="962.47" y1="634.57" x2="962.47" y2="535.85" stroke-width="1.9"/><line x1="957.87" y1="634.57" x2="967.07" y2="634.57" stroke-width="1.9"/><line x1="957.87" y1="535.85" x2="967.07" y2="535.85" stroke-width="1.9"/><line x1="634.30" y1="524.40" x2="655.40" y2="524.40" stroke-width="2"/><line x1="634.30" y1="546.60" x2="655.40" y2="546.60" stroke-width="2"/></g>
<g fill="#000"><path d="M479.15,358.77L483.05,354.87L486.95,358.77L483.05,362.67ZM486.77,359.05L490.67,355.15L494.57,359.05L490.67,362.95ZM494.39,357.23L498.29,353.33L502.19,357.23L498.29,361.13ZM502.02,357.06L505.92,353.16L509.81,357.06L505.92,360.96ZM509.64,355.18L513.54,351.28L517.44,355.18L513.54,359.07ZM517.26,355.86L521.16,351.96L525.06,355.86L521.16,359.76ZM524.88,352.44L528.78,348.54L532.68,352.44L528.78,356.34ZM532.50,354.89L536.40,350.99L540.30,354.89L536.40,358.79ZM540.12,352.84L544.02,348.94L547.92,352.84L544.02,356.74ZM547.75,352.61L551.64,348.71L555.54,352.61L551.64,356.51ZM555.37,354.32L559.27,350.42L563.17,354.32L559.27,358.22ZM562.99,353.86L566.89,349.96L570.79,353.86L566.89,357.76ZM570.61,353.52L574.51,349.62L578.41,353.52L574.51,357.42ZM578.23,354.45L582.13,350.55L586.03,354.45L582.13,358.35ZM585.85,350.95L589.75,347.05L593.65,350.95L589.75,354.85ZM593.48,349.34L597.38,345.44L601.27,349.34L597.38,353.24ZM601.10,345.94L605.00,342.04L608.90,345.94L605.00,349.84ZM608.72,340.54L612.62,336.64L616.52,340.54L612.62,344.44ZM616.34,322.63L620.24,318.73L624.14,322.63L620.24,326.53ZM623.96,298.43L627.86,294.53L631.76,298.43L627.86,302.33ZM631.58,270.51L635.48,266.61L639.38,270.51L635.48,274.41ZM639.21,248.24L643.11,244.34L647.00,248.24L643.11,252.14ZM646.83,227.29L650.73,223.39L654.63,227.29L650.73,231.19ZM654.45,210.49L658.35,206.59L662.25,210.49L658.35,214.39ZM662.07,191.57L665.97,187.67L669.87,191.57L665.97,195.47ZM669.69,178.07L673.59,174.17L677.49,178.07L673.59,181.97ZM677.31,168.47L681.21,164.57L685.11,168.47L681.21,172.37ZM684.94,164.26L688.84,160.36L692.74,164.26L688.84,168.16Z" stroke="none"/><path d="M776.20,347.96L780.10,344.06L784.00,347.96L780.10,351.86ZM788.23,347.96L792.13,344.06L796.03,347.96L792.13,351.86ZM800.25,347.96L804.15,344.06L808.05,347.96L804.15,351.86ZM812.28,347.96L816.18,344.06L820.08,347.96L816.18,351.86ZM824.31,350.46L828.21,346.56L832.11,350.46L828.21,354.36ZM836.33,345.46L840.23,341.56L844.13,345.46L840.23,349.36ZM848.36,350.01L852.26,346.11L856.16,350.01L852.26,353.91ZM860.38,350.01L864.28,346.11L868.18,350.01L864.28,353.91ZM872.41,350.46L876.31,346.56L880.21,350.46L876.31,354.36ZM884.44,350.01L888.34,346.11L892.24,350.01L888.34,353.91ZM896.46,348.42L900.36,344.52L904.26,348.42L900.36,352.32ZM908.49,347.96L912.39,344.06L916.29,347.96L912.39,351.86ZM920.52,338.86L924.42,334.96L928.32,338.86L924.42,342.76ZM932.54,308.13L936.44,304.23L940.34,308.13L936.44,312.03ZM944.57,222.78L948.47,218.88L952.37,222.78L948.47,226.68ZM956.59,172.03L960.49,168.13L964.39,172.03L960.49,175.93ZM968.62,151.31L972.52,147.41L976.42,151.31L972.52,155.21Z" stroke="none"/><circle cx="66.20" cy="777.13" r="4.1"/><circle cx="105.05" cy="773.75" r="4.1"/><circle cx="143.90" cy="762.91" r="4.1"/><circle cx="182.75" cy="746.66" r="4.1"/><circle cx="221.60" cy="712.14" r="4.1"/><circle cx="260.45" cy="695.21" r="4.1"/><circle cx="299.30" cy="697.92" r="4.1"/><circle cx="338.15" cy="699.27" r="4.1"/><circle cx="377.00" cy="693.86" r="4.1"/><circle cx="415.85" cy="687.77" r="4.1"/><rect x="62.30" y="773.97" width="7.8" height="7.8"/><rect x="101.15" y="776.62" width="7.8" height="7.8"/><rect x="140.00" y="766.46" width="7.8" height="7.8"/><rect x="178.85" y="761.04" width="7.8" height="7.8"/><rect x="217.70" y="733.96" width="7.8" height="7.8"/><rect x="256.55" y="683.19" width="7.8" height="7.8"/><rect x="295.40" y="618.87" width="7.8" height="7.8"/><rect x="334.25" y="595.18" width="7.8" height="7.8"/><rect x="373.10" y="590.10" width="7.8" height="7.8"/><rect x="411.95" y="597.89" width="7.8" height="7.8"/><circle cx="99.50" cy="530.70" r="3.7"/><rect x="95.80" y="549.60" width="7.4" height="7.4"/><circle cx="690.00" cy="778.58" r="4.1"/><circle cx="728.92" cy="763.12" r="4.1"/><circle cx="767.85" cy="734.91" r="4.1"/><circle cx="806.77" cy="710.78" r="4.1"/><circle cx="845.70" cy="705.08" r="4.1"/><circle cx="884.62" cy="699.39" r="4.1"/><circle cx="923.55" cy="708.06" r="4.1"/><circle cx="962.47" cy="698.57" r="4.1"/><rect x="647.17" y="777.79" width="7.8" height="7.8"/><rect x="686.10" y="777.39" width="7.8" height="7.8"/><rect x="725.02" y="770.88" width="7.8" height="7.8"/><rect x="763.95" y="759.49" width="7.8" height="7.8"/><rect x="802.88" y="728.57" width="7.8" height="7.8"/><rect x="841.80" y="665.11" width="7.8" height="7.8"/><rect x="880.73" y="609.79" width="7.8" height="7.8"/><rect x="919.65" y="582.12" width="7.8" height="7.8"/><rect x="958.57" y="582.12" width="7.8" height="7.8"/><circle cx="644.85" cy="524.40" r="3.7"/><rect x="641.15" y="542.90" width="7.4" height="7.4"/></g>
<g fill="#000" stroke="#000" stroke-width="0.22" stroke-linejoin="round"><text x="7.30" y="31.60" font-size="31" text-anchor="start" >a</text><text x="26.30" y="31.30" font-size="31" text-anchor="start" >)</text><text x="417.00" y="31.60" font-size="31" text-anchor="start" >b</text><text x="437.30" y="31.30" font-size="31" text-anchor="start" >)</text><text x="7.50" y="480.80" font-size="31" text-anchor="start" >c</text><text x="26.40" y="480.30" font-size="31" text-anchor="start" >)</text><text x="27.40" y="113.50" font-size="18" text-anchor="start" >kDa</text><text x="26.70" y="138.10" font-size="18.4" text-anchor="start" >130 -</text><text x="37.90" y="169.30" font-size="18.4" text-anchor="start" >95-</text><text x="37.90" y="194.60" font-size="18.4" text-anchor="start" >72 -</text><text x="37.90" y="229.00" font-size="18.4" text-anchor="start" >55 -</text><text x="37.90" y="271.60" font-size="18.4" text-anchor="start" >43 -</text><text x="37.90" y="319.60" font-size="18.4" text-anchor="start" >34 -</text><text x="37.90" y="360.50" font-size="18.4" text-anchor="start" >26 -</text><text x="0" y="0" font-size="18.5" text-anchor="start" transform="translate(100.10,112.20) rotate(-45)">scFv’ hu225</text><text x="0" y="0" font-size="18.5" text-anchor="start" transform="translate(154.50,110.80) rotate(-45)">scFv’ MFE23</text><text x="0" y="0" font-size="18.5" text-anchor="start" transform="translate(257.30,111.70) rotate(-45)">scFv’ hu225</text><text x="0" y="0" font-size="18.5" text-anchor="start" transform="translate(307.90,111.70) rotate(-45)">scFv’ MFE23</text><text x="119.20" y="413.50" font-size="18.6" text-anchor="start" >red.</text><text x="274.00" y="413.50" font-size="18" text-anchor="start" >nr</text><text x="476.85" y="366.30" font-size="11.7" text-anchor="end" >0</text><text x="476.85" y="309.30" font-size="11.7" text-anchor="end" >10000</text><text x="476.85" y="252.30" font-size="11.7" text-anchor="end" >20000</text><text x="476.85" y="195.30" font-size="11.7" text-anchor="end" >30000</text><text x="476.85" y="138.30" font-size="11.7" text-anchor="end" >40000</text><text x="521.46" y="380.30" font-size="12.4" text-anchor="middle" >50</text><text x="597.67" y="380.30" font-size="12.4" text-anchor="middle" >60</text><text x="673.89" y="380.30" font-size="12.4" text-anchor="middle" >70</text><text x="592.00" y="96.30" font-size="20.8" text-anchor="middle" >scFv’ hu225</text><text x="597.20" y="398.60" font-size="13.9" text-anchor="middle" >Temperature [°C]</text><text x="0" y="0" font-size="13.5" text-anchor="middle" transform="translate(435.90,247.90) rotate(-90)">Intensity [kcps]</text><text x="772.90" y="366.30" font-size="11.7" text-anchor="end" >0</text><text x="772.90" y="320.78" font-size="11.7" text-anchor="end" >200</text><text x="772.90" y="275.26" font-size="11.7" text-anchor="end" >400</text><text x="772.90" y="229.74" font-size="11.7" text-anchor="end" >600</text><text x="772.90" y="184.22" font-size="11.7" text-anchor="end" >800</text><text x="772.90" y="138.70" font-size="11.7" text-anchor="end" >1000</text><text x="828.51" y="380.30" font-size="12.4" text-anchor="middle" >40</text><text x="888.64" y="380.30" font-size="12.4" text-anchor="middle" >45</text><text x="948.77" y="380.30" font-size="12.4" text-anchor="middle" >50</text><text x="1008.90" y="380.30" font-size="12.4" text-anchor="middle" >55</text><text x="890.50" y="96.30" font-size="20.8" text-anchor="middle" >scFv’ MFE23</text><text x="894.50" y="398.60" font-size="13.9" text-anchor="middle" >Temperature [°C]</text><text x="0" y="0" font-size="13.5" text-anchor="middle" transform="translate(738.90,247.70) rotate(-90)">Intensity [kcps]</text><text x="57.80" y="788.70" font-size="14" text-anchor="end" >0</text><text x="57.80" y="721.00" font-size="14" text-anchor="end" >1</text><text x="57.80" y="653.30" font-size="14" text-anchor="end" >2</text><text x="57.80" y="585.60" font-size="14" text-anchor="end" >3</text><text x="57.80" y="517.90" font-size="14" text-anchor="end" >4</text><text x="65.60" y="805.30" font-size="14" text-anchor="middle" >0.01</text><text x="143.30" y="805.30" font-size="14" text-anchor="middle" >0.1</text><text x="221.00" y="805.30" font-size="14" text-anchor="middle" >1</text><text x="298.70" y="805.30" font-size="14" text-anchor="middle" >10</text><text x="376.40" y="805.30" font-size="14" text-anchor="middle" >100</text><text x="454.10" y="805.30" font-size="14" text-anchor="middle" >1000</text><text x="120.00" y="535.30" font-size="13.8" text-anchor="start" >scFv’ hu225</text><text x="120.00" y="557.90" font-size="13.8" text-anchor="start" >scFv’ MFE23</text><text x="260.00" y="489.00" font-size="19.5" text-anchor="middle" >LS174T</text><text x="259.50" y="826.60" font-size="16" text-anchor="middle" >antibody fragment [nM]</text><text x="0" y="0" font-size="16" text-anchor="middle" transform="translate(41.70,648.00) rotate(-90)">relative MFI</text><text x="603.75" y="788.80" font-size="14" text-anchor="end" >0</text><text x="603.75" y="734.56" font-size="14" text-anchor="end" >2</text><text x="603.75" y="680.32" font-size="14" text-anchor="end" >4</text><text x="603.75" y="626.08" font-size="14" text-anchor="end" >6</text><text x="603.75" y="571.84" font-size="14" text-anchor="end" >8</text><text x="603.75" y="517.60" font-size="14" text-anchor="end" >10</text><text x="611.55" y="805.40" font-size="14" text-anchor="middle" >0.01</text><text x="689.40" y="805.40" font-size="14" text-anchor="middle" >0.1</text><text x="767.25" y="805.40" font-size="14" text-anchor="middle" >1</text><text x="845.10" y="805.40" font-size="14" text-anchor="middle" >10</text><text x="922.95" y="805.40" font-size="14" text-anchor="middle" >100</text><text x="1000.80" y="805.40" font-size="14" text-anchor="middle" >1000</text><text x="663.00" y="529.00" font-size="13.8" text-anchor="start" >scFv’ hu225</text><text x="663.00" y="551.20" font-size="13.8" text-anchor="start" >scFv’ MFE23</text><text x="807.00" y="488.90" font-size="19.5" text-anchor="middle" >A549</text><text x="806.00" y="826.60" font-size="16" text-anchor="middle" >antibody fragment [nM]</text><text x="0" y="0" font-size="16" text-anchor="middle" transform="translate(580.30,648.00) rotate(-90)">relative MFI</text></g>
</svg></body></html>
